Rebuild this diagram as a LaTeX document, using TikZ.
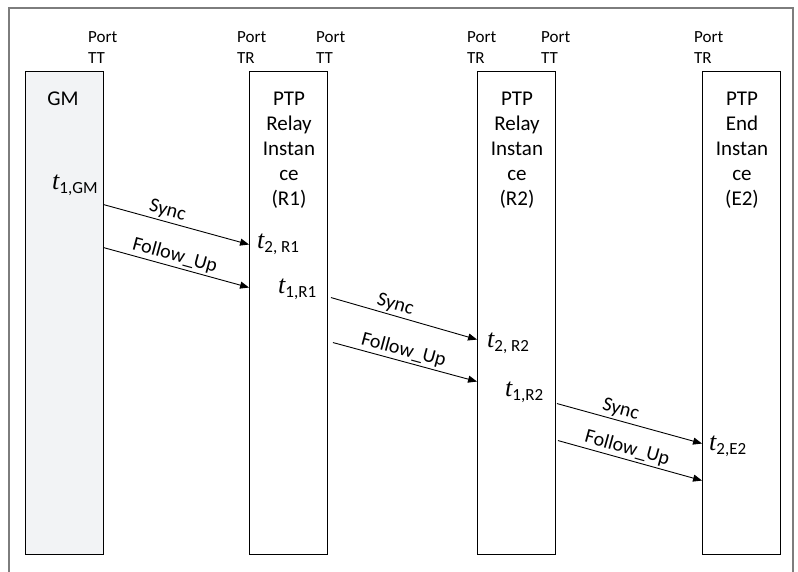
\documentclass[tikz,border=0pt]{standalone}
\usepackage{fontspec}
\setmainfont{Carlito}
\newfontfamily\timefont{Liberation Serif}
\usetikzlibrary{positioning,arrows.meta,calc}
\definecolor{framegray}{RGB}{125,125,125}
\definecolor{gmfill}{RGB}{242,243,245}
\tikzset{
  lifebox/.style={draw=black, line width=0.9pt, minimum width=78pt, minimum height=483pt, inner sep=0pt},
  boxtitle/.style={font=\fontsize{21}{25}\selectfont, align=center, inner sep=0pt, anchor=north},
  portlabel/.style={font=\fontsize{17}{21}\selectfont, align=left, inner sep=0pt, anchor=north west},
  msgarrow/.style={-{Triangle[length=9pt, width=7pt]}, line width=0.9pt},
  msglabel/.style={font=\fontsize{20}{24}\selectfont, sloped, above, inner sep=2pt},
  stampnode/.style={inner sep=0pt, anchor=base west}
}
\newcommand{\tsub}[1]{{\timefont\itshape\fontsize{26}{26}\selectfont t}\raisebox{-4pt}{\fontsize{17}{17}\selectfont #1}}

\begin{document}
\begin{tikzpicture}[x=1pt, y=-1pt]
  \useasboundingbox (0,0) rectangle (798,572);
  \draw[framegray, line width=1.5pt] (9,572) -- (9,8) -- (793,8) -- (793,572);

  % the four instances
  \node[lifebox, fill=gmfill] (gm) at (64,312.5) {};
  \node[lifebox] (r1) at (288.5,312.5) {};
  \node[lifebox] (r2) at (516.5,312.5) {};
  \node[lifebox] (e2) at (741.5,312.5) {};

  \node[boxtitle] (gmtitle) at (63,92) {GM};
  \node[boxtitle] (r1title) at (289,92) {PTP\\Relay\\Instan\\ce\\(R1)};
  \node[boxtitle] (r2title) at (517,92) {PTP\\Relay\\Instan\\ce\\(R2)};
  \node[boxtitle] (e2title) at (742,92) {PTP\\End\\Instan\\ce\\(E2)};

  % ports
  \node[portlabel] (gmtt) at (88,31) {Port\\TT};
  \node[portlabel] (r1tr) at (237,31) {Port\\TR};
  \node[portlabel] (r1tt) at (316,31) {Port\\TT};
  \node[portlabel] (r2tr) at (467,31) {Port\\TR};
  \node[portlabel] (r2tt) at (541,31) {Port\\TT};
  \node[portlabel] (e2tr) at (694,31) {Port\\TR};

  % timestamps
  \node[stampnode] (t1gm) at (52,190) {\tsub{1,GM}};
  \node[stampnode] (t2r1) at (257,249) {\tsub{2, R1}};
  \node[stampnode] (t1r1) at (278,294) {\tsub{1,R1}};
  \node[stampnode] (t2r2) at (487,347) {\tsub{2, R2}};
  \node[stampnode] (t1r2) at (505,396) {\tsub{1,R2}};
  \node[stampnode] (t2e2) at (709,450) {\tsub{2,E2}};

  % message end points
  \coordinate (gmsync) at ($(gm.north east)+(0,134)$);
  \coordinate (gmfup) at ($(gm.north east)+(0,177)$);
  \coordinate (r1syncin) at ($(r1.north west)+(0,174)$);
  \coordinate (r1fupin) at ($(r1.north west)+(0,217)$);
  \coordinate (r1sync) at ($(r1.north east)+(3,227)$);
  \coordinate (r1fup) at ($(r1.north east)+(5,272)$);
  \coordinate (r2syncin) at ($(r2.north west)+(0,269)$);
  \coordinate (r2fupin) at ($(r2.north west)+(0,311)$);
  \coordinate (r2sync) at ($(r2.north east)+(1,333)$);
  \coordinate (r2fup) at ($(r2.north east)+(2,370)$);
  \coordinate (e2syncin) at ($(e2.north west)+(0,373)$);
  \coordinate (e2fupin) at ($(e2.north west)+(0,410)$);

  \draw[msgarrow] (gmsync) -- node[msglabel, pos=0.42] {Sync} (r1syncin);
  \draw[msgarrow] (gmfup) -- node[msglabel, pos=0.47] {Follow\_Up} (r1fupin);
  \draw[msgarrow] (r1sync) -- node[msglabel, pos=0.42] {Sync} (r2syncin);
  \draw[msgarrow] (r1fup) -- node[msglabel, pos=0.47] {Follow\_Up} (r2fupin);
  \draw[msgarrow] (r2sync) -- node[msglabel, pos=0.42] {Sync} (e2syncin);
  \draw[msgarrow] (r2fup) -- node[msglabel, pos=0.46] {Follow\_Up} (e2fupin);
\end{tikzpicture}
\end{document}
